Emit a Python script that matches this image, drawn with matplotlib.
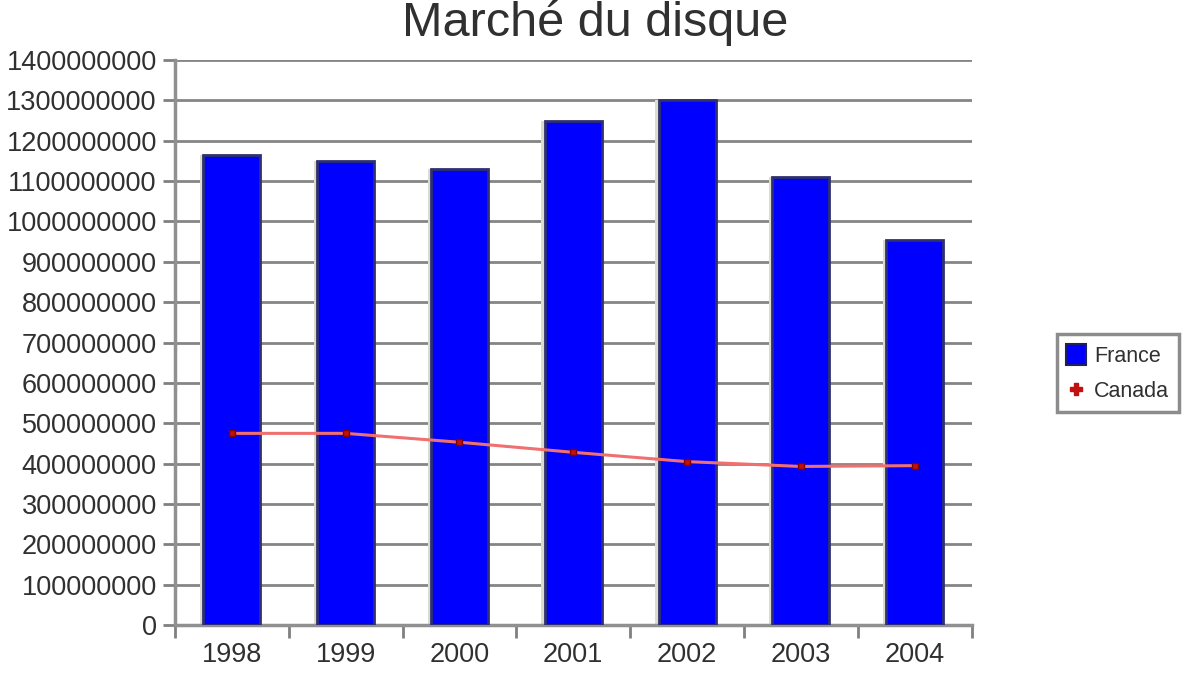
import matplotlib
matplotlib.use("Agg")
import matplotlib.pyplot as plt
from matplotlib.lines import Line2D
from matplotlib.patches import Patch
import numpy as np

years = ["1998", "1999", "2000", "2001", "2002", "2003", "2004"]
france = [1165000000, 1150000000, 1130000000, 1250000000, 1300000000, 1110000000, 955000000]
canada = [475000000, 475000000, 453000000, 428000000, 405000000, 393000000, 395000000]
yticks = list(range(0, 1400000001, 100000000))

plt.rcParams["font.family"] = ["Liberation Sans", "DejaVu Sans"]
txt = "#303030"

fig = plt.figure(figsize=(11.98, 6.75), dpi=100)
ax = fig.add_axes([0.146, 0.074, 0.665, 0.837])

x = np.arange(len(years))
ax.set_axisbelow(True)
ax.yaxis.grid(True, color="#858585", linewidth=2.0)
# light shadow on the left of each bar
ax.bar(x - 0.03, france, width=0.5, color="#dcdccc", zorder=2)
ax.bar(x, france, width=0.5, color="#0000ff", edgecolor="#303070", linewidth=2.0, zorder=3)
ax.plot(x, canada, color="#f07070", linewidth=2.2, marker="s", markersize=4,
        markerfacecolor="#c01010", markeredgecolor="#800000", zorder=4)

ax.set_xlim(-0.5, len(years) - 0.5)
ax.set_ylim(0, 1400000000)
ax.set_yticks(yticks)
ax.set_yticklabels([str(v) for v in yticks], fontsize=19.5, color=txt)
ax.set_xticks(x)
ax.set_xticklabels(years, fontsize=19.5, color=txt)
ax.tick_params(axis="x", length=0, pad=12)
ax.set_xticks(np.arange(len(years) + 1) - 0.5, minor=True)
ax.tick_params(axis="x", which="minor", length=9, width=2, color="#808080", direction="out")
ax.tick_params(axis="y", length=9, width=2, color="#808080", pad=4)

for s in ["top", "right"]:
    ax.spines[s].set_visible(False)
for s in ["left", "bottom"]:
    ax.spines[s].set_color("#909090")
    ax.spines[s].set_linewidth(2.5)

fig.text(0.497, 0.966, "Marché du disque", ha="center", va="center", fontsize=35, color=txt)

handles = [
    Patch(facecolor="#0000ff", edgecolor="#202060", linewidth=1.5),
    Line2D([], [], linestyle="none", marker="P", markersize=8,
           markerfacecolor="#c01010", markeredgecolor="#c01010"),
]
leg = fig.legend(handles, ["France", "Canada"], loc="center", bbox_to_anchor=(0.933, 0.447),
                 fontsize=15.5, frameon=True, fancybox=False, edgecolor="#707070",
                 handlelength=0.9, handleheight=1.1, handletextpad=0.4,
                 borderpad=0.45, labelspacing=0.6, borderaxespad=0)
leg.get_frame().set_linewidth(2.5)
for t in leg.get_texts():
    t.set_color(txt)

fig.savefig("out.png", dpi=100)
